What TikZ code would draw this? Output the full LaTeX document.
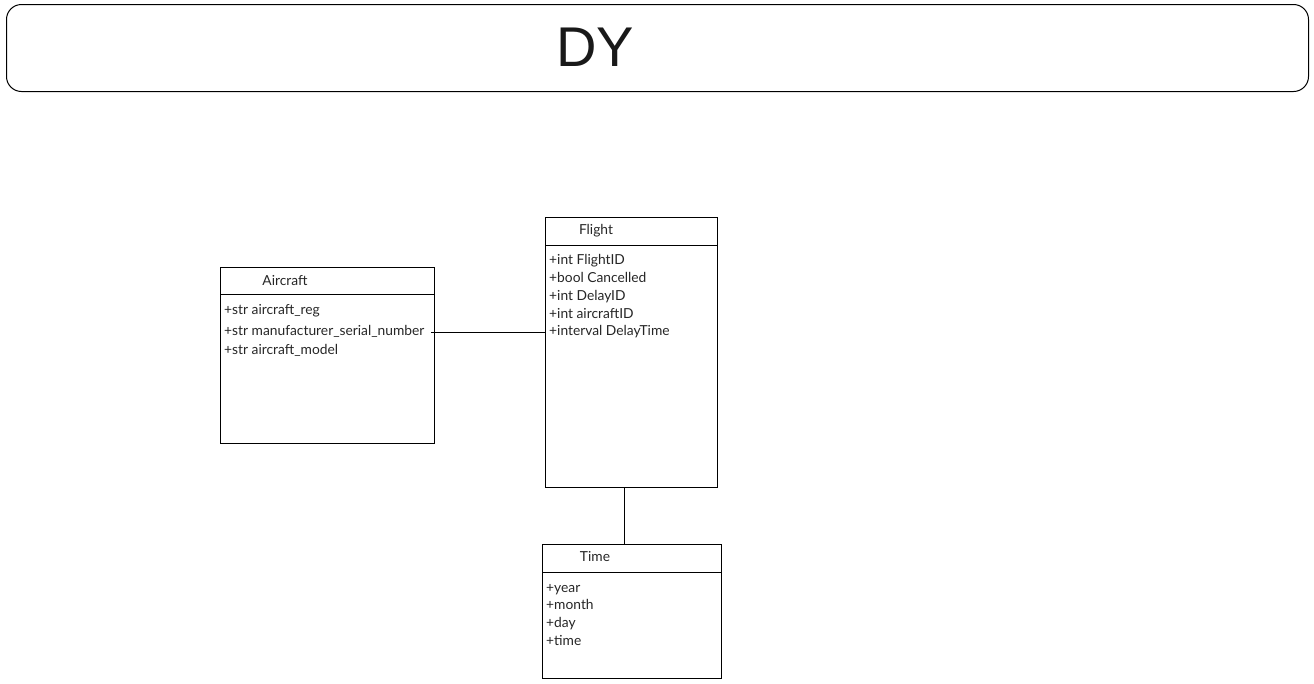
\documentclass[tikz,border=0pt]{standalone}
\usepackage{fontspec}
\setmainfont{Lato}
\newfontfamily\titlefont{Liberation Sans}
\begin{document}
\begin{tikzpicture}[x=1pt,y=1pt,
  box/.style={draw, line width=0.9pt, rectangle, anchor=north west, inner sep=0pt},
  attr/.style={anchor=west, inner sep=0pt, yshift=-1.5pt, text height=9.5pt, text depth=3pt, font=\fontsize{13.8}{16}\selectfont, text=black!85},
  hdr/.style={inner sep=0pt, yshift=-1.5pt, text height=9.5pt, text depth=3pt, font=\fontsize{13.8}{16}\selectfont, text=black!85},
  link/.style={draw, line width=0.9pt}]
\useasboundingbox (0,0) rectangle (1314,-683);
% title
\node[draw, line width=1pt, rounded corners=15pt, anchor=north west, minimum width=1302pt, minimum height=87pt, inner sep=0pt] (title) at (6,-4) {};
\node[inner sep=0pt, font=\titlefont\fontsize{56}{60}\selectfont, text=black!90] (titletext) at (595,-47) {DY};
% Aircraft
\node[box, minimum width=214pt, minimum height=176pt] (aircraft) at (220,-267) {};
\draw[line width=0.9pt] (220,-294) -- (434,-294);
\node[hdr] (aircrafth) at (285,-281) {Aircraft};
\node[attr] (a1) at (224,-310) {+str aircraft\_reg};
\node[attr] (a2) at (224,-331) {+str manufacturer\_serial\_number};
\node[attr] (a3) at (224,-350) {+str aircraft\_model};
% Flight
\node[box, minimum width=172pt, minimum height=270pt] (flight) at (545,-217) {};
\draw[line width=0.9pt] (545,-245) -- (717,-245);
\node[hdr] (flighth) at (596,-230) {Flight};
\node[attr] (f1) at (549,-260) {+int FlightID};
\node[attr] (f2) at (549,-278) {+bool Cancelled};
\node[attr] (f3) at (549,-296) {+int DelayID};
\node[attr] (f4) at (549,-314) {+int aircraftID};
\node[attr] (f5) at (549,-331) {+interval DelayTime};
% Time
\node[box, minimum width=179pt, minimum height=134pt] (time) at (542,-544) {};
\draw[line width=0.9pt] (542,-572) -- (721,-572);
\node[hdr] (timeh) at (595,-557) {Time};
\node[attr] (t1) at (546,-588) {+year};
\node[attr] (t2) at (546,-605) {+month};
\node[attr] (t3) at (546,-623) {+day};
\node[attr] (t4) at (546,-641) {+time};
% connectors
\coordinate (c1) at (431,-332);
\draw[link] (c1) -- (flight.west |- c1);
\coordinate (c2) at (624,-487);
\draw[link] (c2) -- (c2 |- time.north);
\end{tikzpicture}
\end{document}
